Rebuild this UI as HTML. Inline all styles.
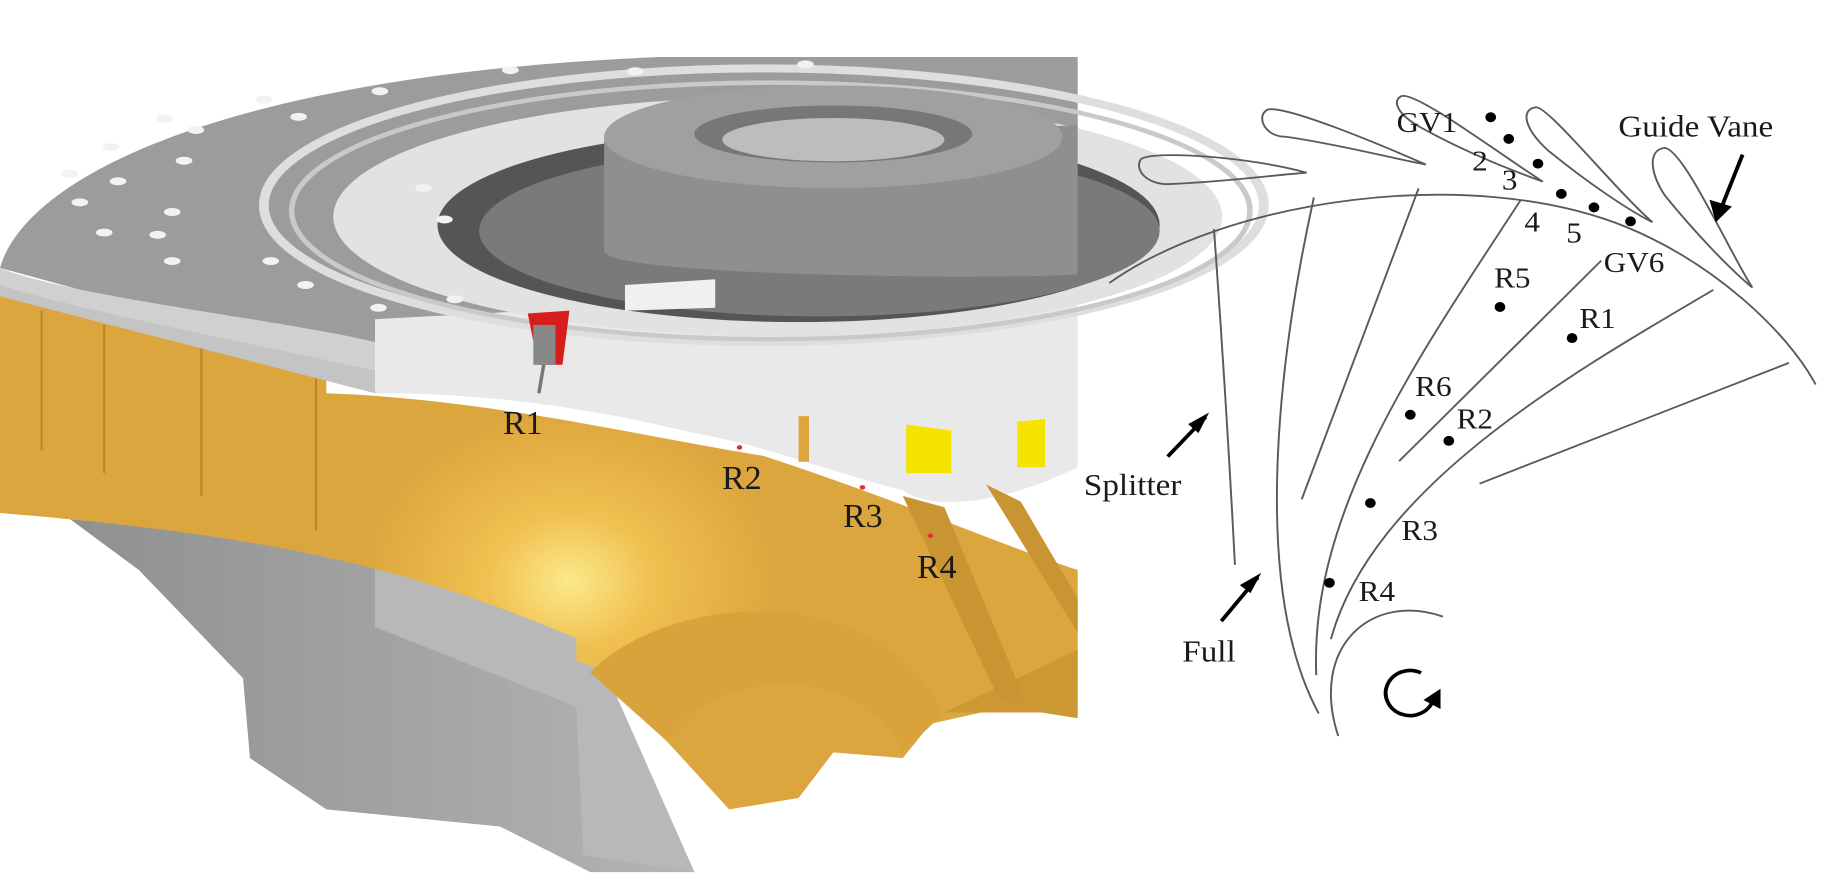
<!DOCTYPE html>
<html><head><meta charset="utf-8"><style>html,body{margin:0;padding:0;background:#fff;width:1840px;height:891px;overflow:hidden}</style></head>
<body>
<svg width="1840" height="891" viewBox="0 0 1840 891" xmlns="http://www.w3.org/2000/svg">
<defs>
<radialGradient id="glow" cx="820" cy="1020" r="300" gradientUnits="userSpaceOnUse">
<stop offset="0" stop-color="#fbe98a"/><stop offset="0.4" stop-color="#f0c050"/><stop offset="1" stop-color="#dca63e"/></radialGradient>
<linearGradient id="lg" x1="0" y1="0" x2="1" y2="0"><stop offset="0" stop-color="#8c8c8c"/><stop offset="1" stop-color="#b4b4b4"/></linearGradient>
</defs>
<g transform="scale(0.6944,0.57)">
<path d="M0,700 L560,860 L840,1090 L1000,1530 L850,1530 L720,1450 L470,1420 L360,1330 L350,1190 L200,1000 L0,820Z" fill="url(#lg)"/>
<path d="M540,940 L840,1090 L1000,1530 L840,1500 L830,1240 L540,1100Z" fill="#b8b8b8"/>
<path d="M0,495 L470,640 L470,690 C700,700 900,760 1100,800 C1300,880 1450,960 1552,1000 L1552,1200 L1450,1240 L1340,1270 L1300,1330 L1200,1320 L1150,1400 L1050,1420 L960,1300 L880,1180 L830,1160 L830,1120 C600,1000 400,940 0,900Z" fill="url(#glow)"/>
<path d="M850,1180 C950,1050 1250,1000 1360,1250 L1300,1320 C1250,1180 1050,1150 960,1300Z" fill="#d9a23a"/>
<path d="M1360,1250 L1552,1140 L1552,1260 L1500,1250Z" fill="#cc9834"/>
<g stroke="#b8862c" stroke-width="3"><line x1="60" y1="545" x2="60" y2="790"/><line x1="150" y1="570" x2="150" y2="830"/><line x1="290" y1="610" x2="290" y2="870"/><line x1="455" y1="650" x2="455" y2="930"/></g>
<path d="M540,560 L1552,420 L1552,820 C1450,880 1350,900 1300,860 C1200,830 1100,780 1000,760 C800,700 650,690 540,690Z" fill="#e9e9e9"/>
<path d="M1150,730 L1165,730 L1165,810 L1150,810Z" fill="#dca63e"/>
<path d="M1305,745 L1370,755 L1370,830 L1305,830Z" fill="#f4e400"/>
<path d="M1465,740 L1505,735 L1505,820 L1465,820Z" fill="#f4e400"/>
<path d="M1300,870 L1360,890 L1480,1240 L1440,1230Z M1420,850 L1470,880 L1552,1050 L1552,1110Z" fill="#c99532"/>
<path d="M0,470 C40,300 350,130 950,100 L1552,100 L1552,480 L1040,480 L1000,530 L540,560 L540,650 Z" fill="#9c9c9c"/>
<path d="M0,430 L0,480 L540,650 L540,690 L0,520Z" fill="#c4c4c4"/>
<path d="M0,470 C100,520 400,560 540,600 L540,650 C350,600 100,540 0,500Z" fill="#d0d0d0"/>
<ellipse cx="1100" cy="360" rx="720" ry="240" fill="none" stroke="#dedede" stroke-width="14"/>
<ellipse cx="1110" cy="370" rx="690" ry="225" fill="none" stroke="#c9c9c9" stroke-width="8"/>
<ellipse cx="1120" cy="380" rx="640" ry="210" fill="#e2e2e2"/>
<ellipse cx="1150" cy="395" rx="520" ry="170" fill="#555"/>
<ellipse cx="1180" cy="405" rx="490" ry="150" fill="#7a7a7a"/>
<path d="M870,240 L870,440 C870,490 1550,490 1552,480 L1552,220 Z" fill="#8f8f8f"/>
<ellipse cx="1200" cy="240" rx="330" ry="90" fill="#a0a0a0"/>
<ellipse cx="1200" cy="235" rx="200" ry="50" fill="#777"/>
<ellipse cx="1200" cy="245" rx="160" ry="38" fill="#bdbdbd"/>
<g fill="#f2f2f2">
<ellipse cx="100" cy="305" rx="12" ry="7"/><ellipse cx="160" cy="258" rx="12" ry="7"/><ellipse cx="237" cy="208" rx="12" ry="7"/><ellipse cx="380" cy="175" rx="12" ry="7"/><ellipse cx="547" cy="160" rx="12" ry="7"/><ellipse cx="735" cy="123" rx="12" ry="7"/><ellipse cx="915" cy="125" rx="12" ry="7"/><ellipse cx="1160" cy="113" rx="12" ry="7"/>
<ellipse cx="115" cy="355" rx="12" ry="7"/><ellipse cx="170" cy="318" rx="12" ry="7"/><ellipse cx="282" cy="228" rx="12" ry="7"/><ellipse cx="430" cy="205" rx="12" ry="7"/><ellipse cx="150" cy="408" rx="12" ry="7"/><ellipse cx="227" cy="412" rx="12" ry="7"/><ellipse cx="248" cy="372" rx="12" ry="7"/><ellipse cx="265" cy="282" rx="12" ry="7"/><ellipse cx="248" cy="458" rx="12" ry="7"/><ellipse cx="390" cy="458" rx="12" ry="7"/><ellipse cx="440" cy="500" rx="12" ry="7"/><ellipse cx="545" cy="540" rx="12" ry="7"/><ellipse cx="655" cy="525" rx="12" ry="7"/><ellipse cx="610" cy="330" rx="12" ry="7"/><ellipse cx="640" cy="385" rx="12" ry="7"/>
</g>
<path d="M760,550 L820,545 L810,640 L775,640Z" fill="#d91c1c"/>
<rect x="768" y="570" width="32" height="70" fill="#888"/>
<line x1="783" y1="640" x2="776" y2="690" stroke="#777" stroke-width="5"/>
<path d="M900,500 L1030,490 L1030,540 L900,545Z" fill="#f0f0f0"/>
<g fill="#e03030"><circle cx="1065" cy="785" r="4"/><circle cx="1242" cy="855" r="4"/><circle cx="1340" cy="940" r="4"/></g>
</g>
<g font-family="Liberation Serif, serif" font-size="34" fill="#1a1a1a">
<text x="503" y="434">R1</text><text x="722" y="489">R2</text><text x="843" y="527">R3</text><text x="917" y="578">R4</text></g>
<g transform="translate(1080,60) scale(0.4872,0.4507)" fill="none" stroke="#5a5a5a" stroke-width="4">
<path d="M60,495 C300,310 800,230 1120,370 C1300,450 1450,600 1510,720"/>
<path d="M465,250 C350,215 150,200 125,220 C110,245 140,280 190,275 C300,270 400,255 465,250Z"/>
<path d="M710,232 C600,180 420,100 385,110 C360,125 380,170 420,170 C520,185 650,220 710,232Z"/>
<path d="M950,270 C850,200 690,70 660,80 C640,90 650,120 700,150 C800,210 900,250 950,270Z"/>
<path d="M1175,360 C1100,290 960,100 935,105 C905,110 910,150 960,200 C1040,270 1120,330 1175,360Z"/>
<path d="M1380,505 C1330,420 1240,200 1200,195 C1165,200 1170,250 1200,300 C1260,380 1330,460 1380,505Z"/>
<path d="M275,375 C290,600 305,850 318,1120"/>
<path d="M480,305 C420,600 340,1150 490,1450"/>
<path d="M695,285 L455,975"/>
<path d="M905,310 C700,650 470,1000 485,1365"/>
<path d="M1070,445 L655,890"/>
<path d="M1300,510 C1000,700 600,950 515,1285"/>
<path d="M1455,672 L820,940"/>
<path d="M745,1235 C600,1180 470,1300 530,1500"/>
<g stroke="#000" stroke-width="8"><path d="M1360,210 L1310,345"/><path d="M180,880 L258,792"/><path d="M290,1245 L365,1148"/>
<path d="M725,1420 A50,50 0 1 1 700,1360"/></g>
<g fill="#000" stroke="none">
<path d="M1305,360 L1292,310 L1338,325Z"/><path d="M265,782 L243,828 L222,808Z"/><path d="M372,1138 L350,1183 L328,1165Z"/><path d="M740,1395 L740,1440 L705,1420Z"/>
<circle cx="843" cy="127" r="11"/><circle cx="880" cy="175" r="11"/><circle cx="940" cy="230" r="11"/><circle cx="988" cy="297" r="11"/><circle cx="1055" cy="327" r="11"/><circle cx="1130" cy="358" r="11"/><circle cx="862" cy="548" r="11"/><circle cx="1010" cy="617" r="11"/><circle cx="678" cy="787" r="11"/><circle cx="757" cy="845" r="11"/><circle cx="596" cy="983" r="11"/><circle cx="512" cy="1160" r="11"/>
</g>
<g font-family="Liberation Serif, serif" font-size="64" fill="#1a1a1a" stroke="none">
<text x="650" y="160">GV1</text><text x="805" y="245">2</text><text x="866" y="287">3</text><text x="912" y="380">4</text><text x="998" y="405">5</text><text x="1075" y="470">GV6</text>
<text x="850" y="505">R5</text><text x="1025" y="595">R1</text><text x="688" y="745">R6</text><text x="773" y="818">R2</text><text x="660" y="1065">R3</text><text x="572" y="1200">R4</text>
<text x="1105" y="170" font-size="68">Guide Vane</text><text x="8" y="965" font-size="68">Splitter</text><text x="210" y="1335" font-size="68">Full</text>
</g>
</g>
</svg>
</body></html>
